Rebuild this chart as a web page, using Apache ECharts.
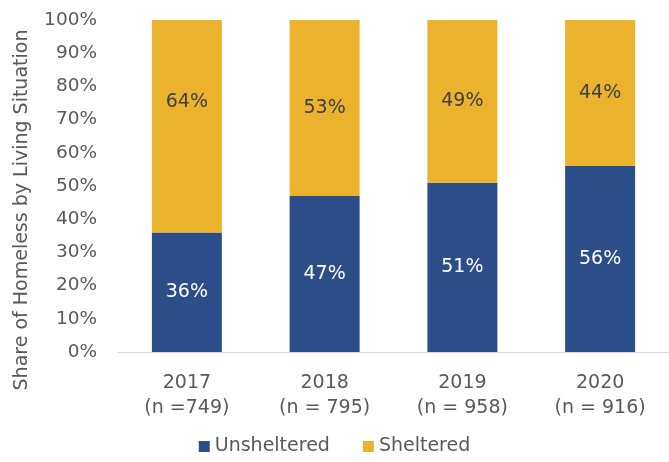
<!DOCTYPE html>
<html><head><meta charset="utf-8">
<script src="https://cdn.jsdelivr.net/npm/echarts@6/dist/echarts.min.js"></script>
<style>html,body{margin:0;padding:0;background:#fff}#c{width:669px;height:462px}</style>
</head><body><div id="c"></div>
<script>
const categories = ['2017\n(n =749)', '2018\n(n = 795)', '2019\n(n = 958)', '2020\n(n = 916)'];
const unsheltered = [36, 47, 51, 56];
const sheltered = [64, 53, 49, 44];
const yTicks = [0, 10, 20, 30, 40, 50, 60, 70, 80, 90, 100];

const FONT = 'DejaVu Sans';
const chart = echarts.init(document.getElementById('c'), null, {renderer: 'canvas'});
chart.setOption({
  animation: false,
  grid: {left: 118, right: -6, top: 20, bottom: 110, containLabel: false},
  xAxis: {
    type: 'category', data: categories,
    axisLine: {lineStyle: {color: '#D9D9D9', width: 1}},
    axisTick: {show: false},
    axisLabel: {color: '#595959', fontFamily: FONT, fontSize: 19, lineHeight: 25, margin: 19}
  },
  yAxis: {
    type: 'value', min: yTicks[0], max: yTicks[yTicks.length - 1], interval: 10,
    splitLine: {show: false},
    axisLine: {show: false}, axisTick: {show: false},
    axisLabel: {color: '#595959', fontFamily: FONT, fontSize: 18.5, margin: 21,
      formatter: v => v + '%'}
  },
  legend: {
    bottom: 1, left: 'center', itemWidth: 11, itemHeight: 11, itemGap: 33,
    icon: 'rect',
    textStyle: {color: '#595959', fontFamily: FONT, fontSize: 19}
  },
  graphic: [{
    type: 'text', x: 22, y: 210, rotation: Math.PI / 2,
    style: {text: 'Share of Homeless by Living Situation', fill: '#595959',
      font: '19px "DejaVu Sans"', align: 'center', verticalAlign: 'middle'}
  }],
  series: [
    {name: 'Unsheltered', type: 'bar', stack: 's', data: unsheltered, barWidth: 70,
      itemStyle: {color: '#2B4E89'},
      label: {show: true, position: 'inside', formatter: '{c}%', color: '#FFFFFF', fontFamily: FONT, fontSize: 19}},
    {name: 'Sheltered', type: 'bar', stack: 's', barWidth: 70,
      data: sheltered.map((v, i) => i === 0 ? {value: v, label: {offset: [0, -24]}} : v),
      itemStyle: {color: '#EBB22E'},
      label: {show: true, position: 'inside', formatter: '{c}%', color: '#404040', fontFamily: FONT, fontSize: 19}}
  ]
});
</script></body></html>
